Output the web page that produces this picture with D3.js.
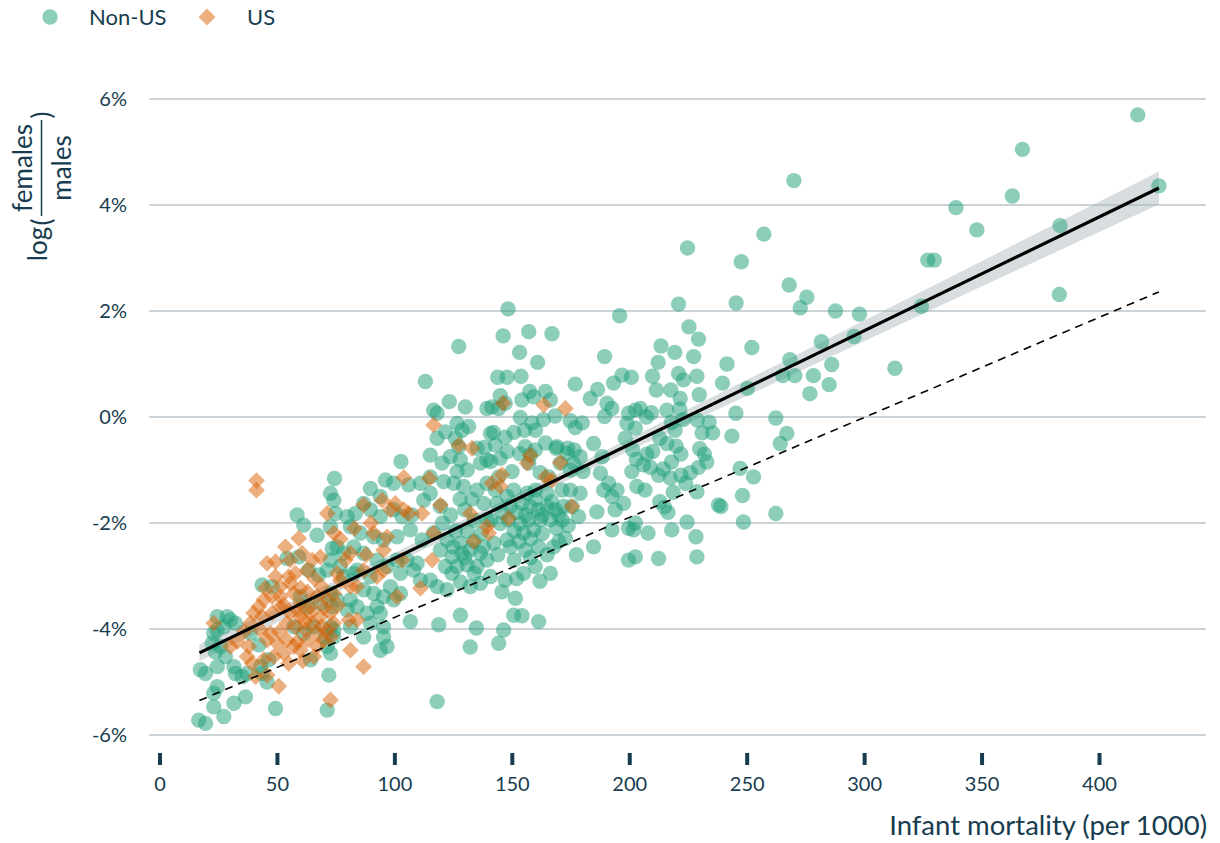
<!DOCTYPE html>
<html>
<head>
<meta charset="utf-8">
<script src="https://cdn.jsdelivr.net/npm/d3@7"></script>
<style>
  body { margin: 0; background: #ffffff; }
  svg { display: block; }
  text { font-family: Lato, "Open Sans", sans-serif; fill: #173c4f; }
</style>
</head>
<body>
<svg id="chart" width="1220" height="843"></svg>
<script>
// Infant mortality (per 1000) vs. log(females / males) in percent
const nonUS = [
  [24.6,-3.77],[28.8,-3.77],[32.3,-3.89],[27.4,-3.96],[24.6,-4.02],[30.2,-3.83],
  [23.1,-4.08],[22.4,-4.27],[26,-4.33],[28.1,-4.52],[23.8,-4.43],
  [17.4,-4.77],[19.6,-4.84],[24.6,-4.71],[32.3,-4.84],[35.2,-4.9],[31.7,-4.71],[37.3,-4.84],
  [24.6,-5.09],[23.1,-5.21],[36.6,-5.28],[31.7,-5.4],
  [23.1,-5.47],[27.4,-5.65],[16.7,-5.72],[19.6,-5.78],[38.7,-4.08],
  [43.7,-3.17],[48,-3.2],[58.6,-1.85],[61.4,-2.04],[67.1,-2.23],[73.5,-2.48],[54.3,-2.67],[59.3,-2.64],
  [63.5,-2.89],[67.8,-2.98],[71.4,-2.89],[60,-3.39],[62.9,-3.58],[68.5,-3.52],[73.5,-3.58],[57.2,-3.96],
  [61.4,-4.08],[65.7,-3.96],[70.6,-4.15],[74.2,-4.02],[43.7,-4.84],[45.8,-5.0],[72.1,-4.87],[71.4,-5.53],
  [64.3,-4.58],[46.5,-4.58],[43,-4.71],[71.4,-4.33],[42.3,-4.3],[49.4,-5.5],[74.5,-1.16],[72.8,-1.44],
  [74.2,-1.57],[74.9,-1.82],[72.8,-2.07],
  [89.8,-1.35],[94,-1.5],[86.9,-1.63],[83.4,-1.82],[79.9,-1.88],[89.8,-1.75],[94,-1.88],[99.7,-1.75],[103.3,-1.88],
  [96.2,-1.19],[99.7,-1.25],[102.8,-0.84],
  [81.3,-2.07],[85.5,-2.19],[91.2,-2.26],[95.4,-2.32],[101.1,-2.26],
  [75.6,-2.45],[78.4,-2.57],[72.8,-2.7],[77,-2.82],[82.7,-2.45],[86.9,-2.57],[92.6,-2.7],[96.9,-2.82],
  [101.1,-2.7],[105.4,-2.7],[102.6,-2.95],
  [78.4,-3.01],[82.7,-2.95],[86.9,-3.26],[91.2,-3.33],[95.4,-3.39],[98.3,-3.2],[102.6,-3.33],[99.7,-3.45],
  [72.8,-3.33],[75.6,-3.45],[79.9,-3.64],[84.1,-3.58],[88.4,-3.7],[94,-3.7],[95.4,-3.96],[95.4,-4.15],[96.9,-4.33],
  [72.8,-3.96],[74.2,-4.15],[72.8,-4.46],
  [84.1,-2.89],[89.8,-3.01],[81.3,-3.45],[92.6,-3.58],[89.8,-3.89],[94,-4.4],[86.9,-4.15],[81.3,-3.96],
  [113.2,0.67],[123.4,0.29],[130.2,0.19],[116.7,0.13],[118.2,0.07],[139.4,0.16],
  [126.7,-0.12],[131.6,-0.18],[121.7,-0.28],[126,-0.4],[118.2,-0.4],
  [135.2,-0.59],[127.4,-0.56],[123.8,-0.75],[115.3,-0.72],[128.1,-0.81],
  [120.3,-0.87],[126.7,-1.03],[131,-1.0],[139.4,-0.81],
  [106.1,-1.28],[111.1,-1.25],[115.3,-1.13],[121,-1.22],[129.5,-1.31],[135.2,-1.38],
  [112.5,-1.57],[115.3,-1.44],[119.6,-1.69],[107.5,-1.85],
  [106.8,-2.13],[111.8,-2.32],[116.7,-2.19],[122.4,-2.32],[128.1,-2.38],[133.8,-2.35],[138,-2.45],
  [119.6,-2.51],[124.6,-2.64],[128.8,-2.57],[132.3,-2.51],[136.6,-2.57],[139.4,-2.7],[121.7,-2.82],
  [126.7,-2.82],[131,-2.79],[135.2,-2.82],
  [109.7,-2.76],[108.2,-2.89],[111.1,-3.08],[115.3,-3.08],[118.2,-3.2],[122.4,-3.26],[128.1,-3.11],
  [132.3,-3.2],[136.6,-3.14],
  [106.8,-3.86],[118.9,-3.92],[128.1,-3.74],[118.2,-5.37],
  [127.4,1.33],[138,-1.63],[139.4,-1.94],
  [136.6,-0.87],[139.4,-1.25],[138.4,-0.57],[128.8,-0.25],[125.3,-1.25],[132.3,-4.34],[134.9,-3.98],
  [125,-2.45],[130,-2.65],[134,-2.95],[124.5,-2.95],[137,-2.2],[131,-2.15],[126,-2.15],[120.5,-2.0],
  [134,-1.95],[130,-1.75],[124,-1.85],[128,-1.55],[133,-1.55],
  [148.4,2.04],[146.3,1.53],[157.2,1.61],[167.1,1.57],[153.3,1.22],[161,1.03],
  [144,0.75],[148,0.75],[153.9,0.77],[177,0.62],
  [145.1,0.4],[147.2,0.26],[144.4,0.16],
  [157.6,0.48],[164.3,0.48],[166.4,0.32],[159.3,0.38],[154.3,0.32],
  [153.6,-0.01],[158.6,-0.11],[163.4,-0.05],[168.4,0.02],[174.9,-0.07],[180,-0.11],[177,-0.2],
  [142.2,-0.29],[147.2,-0.38],[150.9,-0.29],[155.4,-0.25],[160.1,-0.25],[164.3,-0.49],[168.8,-0.59],
  [173.8,-0.59],[176.6,-0.62],
  [143,-0.53],[141,-0.84],[145.1,-0.78],[148,-0.65],
  [153.3,-0.69],[155.7,-0.56],[160,-0.62],[169.2,-0.56],[173.5,-0.69],[179.1,-0.75],[176.3,-0.87],
  [180.3,-1.03],[174.9,-1.0],[170.6,-0.87],
  [144.4,-1.13],[150.1,-1.03],[157.9,-0.72],[157.2,-0.87],[162.1,-1.05],[165.7,-1.13],
  [143,-1.38],[148,-1.5],[150.8,-1.38],[156.5,-1.44],[160,-1.38],[165,-1.44],[171.4,-1.38],[174.9,-1.38],[179.1,-1.44],
  [143.7,-1.63],[149.4,-1.69],[154.3,-1.63],[157.9,-1.69],[161.4,-1.75],[165,-1.69],[168.5,-1.75],[172.1,-1.69],
  [175.6,-1.69],[178.4,-1.88],
  [145.1,-2.01],[148.6,-1.94],[153.6,-2.01],[157.2,-1.94],[162.1,-1.94],[166.4,-1.94],[171.4,-1.94],
  [159.3,-2.13],[155,-2.19],
  [142.3,-2.38],[148,-2.32],[149.4,-2.45],[155.7,-2.51],[161.4,-2.45],[167.8,-2.45],[172.8,-2.29],
  [140.9,-3.01],[147.2,-3.08],[155,-2.95],[160,-2.82],[166.4,-2.95],
  [145.8,-3.3],[151.5,-3.42],[150.8,-3.74],[154.3,-3.75],[161.4,-3.86],[146.5,-4.02],[144.4,-4.27],
  [141.5,0.19],[140.9,-0.31],[177.5,-2.6],
  [152,-1.8],[156,-1.85],[160,-1.55],[163,-1.85],[167,-1.6],[170,-1.85],[158,-2.3],[163,-2.2],[169,-2.1],
  [151,-2.15],[146,-1.8],[153,-2.35],[165,-2.6],[170,-2.35],[174,-2.05],[141,-1.95],[144,-2.6],[151,-2.7],
  [158,-2.65],[162,-3.1],[152,-3.05],
  [195.9,1.91],[189.5,1.14],[196.9,0.79],[200.9,0.75],[193.3,0.64],[183.4,0.35],[186.5,0.52],[190.5,0.26],
  [192.6,0.16],[189.5,0.01],[199.7,0.07],[202.6,0.13],[204.7,0.16],
  [199,-0.12],[202.6,-0.21],[198.3,-0.4],[184.8,-0.5],[188.4,-0.75],[187.7,-1.06],[191.2,-1.25],[194.8,-1.38],
  [197.6,-1.63],[192.6,-1.5],[189.1,-1.38],[201.1,-1.03],[203.2,-1.31],[186.2,-1.79],[194,-1.75],[192.6,-2.13],
  [199.7,-2.1],[202.6,-2.0],[184.8,-2.45],[199.7,-2.7],[202.6,-2.64],
  [257.3,3.45],[224.8,3.19],[247.7,2.93],[221,2.13],[245.5,2.15],[225.4,1.7],[229.5,1.47],[252.2,1.31],
  [213.5,1.34],[219.4,1.22],[227.4,1.14],[212.3,1.03],[241.6,1.0],[209.9,0.77],[221,0.82],[223.1,0.7],
  [228.8,0.77],[239.7,0.64],[211.5,0.51],[217.7,0.51],[221.7,0.35],[229.8,0.42],[250.3,0.54],
  [207.3,0.0],[209.4,0.08],
  [216,0.13],[218,-0.1],[221.5,0.15],[223,-0.05],[219.5,-0.25],
  [229,-0.06],[234,-0.1],[231,-0.3],[235.5,-0.3],
  [245.4,0.07],[243.7,-0.36],[262.4,-0.02],[267.1,-0.31],[264.3,-0.5],
  [201.5,-0.62],[203,-0.8],[206,-0.9],[209,-0.95],[210,-0.65],[207.5,-0.7],
  [213,-0.4],[216,-0.5],[220,-0.55],[222,-0.7],[218,-0.85],[214.5,-0.98],[212.5,-1.1],[217.5,-1.15],
  [222,-1.1],[226,-1.05],[229.5,-0.95],[232,-0.7],[230,-0.6],[233,-0.85],[224,-1.25],
  [206.7,-1.38],[213,-1.6],[215,-1.7],[216.5,-1.8],[218.7,-1.42],[228.8,-1.41],[247.2,-0.97],[252.9,-1.13],
  [248.2,-1.48],[238,-1.66],[239,-1.69],[248.6,-1.98],[262.4,-1.82],[208,-2.19],[218.1,-2.13],[224.6,-1.98],
  [228.4,-2.26],[201.8,-2.13],[212.5,-2.67],[228.8,-2.64],
  [416.5,5.7],[367.4,5.05],[270.1,4.46],[363.1,4.17],[425.5,4.36],[339.1,3.95],[348,3.53],[383.4,3.61],
  [327.1,2.96],[329.9,2.96],[268.1,2.49],[275.6,2.26],[272.8,2.06],[287.8,2.0],[298,1.94],[324.4,2.09],
  [383.1,2.31],[281.8,1.42],[295.7,1.52],[268.4,1.08],[265.4,0.78],[270.5,0.78],[278.4,0.78],[286.2,0.99],
  [285.1,0.61],[276.9,0.44],[313.1,0.92]
];

const us = [
  [23.1,-3.89],[30.2,-4.33],[33.1,-4.24],[38,-4.33],[37.3,-4.52],[39.4,-4.65],[38.7,-3.89],
  [41.3,-1.2],[41.3,-1.38],[71.4,-1.82],[74.2,-2.19],[59.3,-2.29],[53.6,-2.45],[45.8,-2.76],[49.4,-2.73],
  [55.7,-2.7],[60.7,-2.57],[65,-2.7],[68.5,-2.64],[49.4,-3.01],[55,-3.01],[57.9,-2.95],[62.9,-2.89],
  [51.5,-3.2],[55.7,-3.14],[60,-3.23],[45.1,-3.23],[48,-3.39],[51.5,-3.39],[42.3,-3.58],[44.4,-3.45],
  [40.1,-3.7],[43.7,-3.77],[48,-3.7],[51.5,-3.58],[57.2,-3.33],[60,-3.52],[64.3,-3.58],[67.1,-3.39],
  [71.4,-3.45],[74.2,-3.33],[55.7,-3.7],[60,-3.77],[64.3,-3.7],[68.5,-3.77],[72.8,-3.7],[54.3,-3.89],
  [57.9,-3.96],[62.1,-4.02],[65,-3.89],[67.1,-4.08],[71.4,-4.02],[74.2,-3.89],[43,-4.02],[47.2,-4.08],
  [45.8,-4.21],[50.1,-4.27],[54.3,-4.21],[58.6,-4.24],[62.9,-4.21],[44.4,-4.58],[48.7,-4.52],[52.9,-4.46],
  [57.2,-4.33],[60,-4.4],[40.9,-4.9],[45.8,-4.87],[50.8,-5.08],[72.8,-5.34],[67.1,-4.33],[70,-4.21],[65.7,-4.52],
  [63,-3.3],[66,-3.05],[69,-3.2],[53,-3.55],[62,-3.85],[69,-3.95],[51,-4.05],[59,-3.65],[61,-4.6],
  [55,-4.65],[70,-3.6],[73,-4.15],[36,-4.05],[76,-3.55],[84,-3.2],[88,-2.6],[90,-2.0],[83,-2.1],[77,-2.3],
  [104,-1.14],[94.8,-1.57],[100.4,-1.63],[86.9,-1.66],[91.2,-2.19],[96.9,-2.26],[79.1,-2.7],[103.3,-2.7],
  [95.4,-2.89],[75.6,-2.95],[81.3,-3.2],[101.1,-3.39],[80.6,-3.83],[81.3,-4.4],[86.9,-4.71],[98.3,-1.75],
  [95.4,-2.51],[81.3,-2.57],[86.9,-2.89],[92.6,-3.01],[84.1,-3.83],[77,-3.08],
  [116.7,-0.15],[114.9,-1.16],[127.4,-0.53],[133.1,-0.59],[106.1,-1.82],[111.8,-1.82],[119.6,-1.66],
  [116.7,-2.19],[116.1,-2.7],[133.8,-2.35],[132.3,-1.82],[111.1,-3.23],[139.4,-2.07],[104,-1.75],
  [140.2,-2.19],[141.5,-1.25],[145.8,-1.09],[145.1,-1.31],[148.6,-1.91],[146.3,0.26],[163.6,0.23],
  [172.8,0.16],[157.9,-0.72],[156.5,-0.87],[170.6,-0.86],[164.3,-1.13],[167.1,-1.19],[175.6,-1.69]
];

// Fitted regression line and its confidence band
const fitM = [17, 425.5];
const fitP = [-4.45, 4.32];
const bandM = [17, 60, 100, 140, 180, 220, 264, 300, 350, 400, 425.5];
const bandLow = [-4.61, -3.66, -2.77, -1.91, -1.06, -0.22, 0.69, 1.43, 2.46, 3.49, 4.01];
const bandHigh = [-4.29, -3.40, -2.56, -1.71, -0.85, 0.04, 1.01, 1.82, 2.94, 4.06, 4.63];

// Dashed reference line
const refM = [17, 425.5];
const refP = [-5.35, 2.36];

const xTicks = [0, 50, 100, 150, 200, 250, 300, 350, 400];
const yTicks = [-6, -4, -2, 0, 2, 4, 6];

const legendLabels = ["Non-US", "US"];
const xTitle = "Infant mortality (per 1000)";

const GREEN = "#1b9e77";
const ORANGE = "#d95f02";
const INK = "#173c4f";

const svg = d3.select("#chart");

const x = d3.scaleLinear().domain([0, 400]).range([159.5, 1099]);
const y = d3.scaleLinear().domain([-6, 6]).range([735, 99]);
const panelLeft = x(-4.5), panelRight = x(445.5);

// horizontal grid
svg.append("g")
  .selectAll("line")
  .data(yTicks)
  .join("line")
  .attr("x1", panelLeft).attr("x2", panelRight)
  .attr("y1", d => y(d)).attr("y2", d => y(d))
  .attr("stroke", "#cbd3d8").attr("stroke-width", 2);

// y tick labels
const yAxis = svg.append("g")
  .attr("transform", `translate(127,0)`)
  .call(d3.axisLeft(y).tickValues(yTicks).tickSize(0).tickPadding(0).tickFormat(d => `${d}%`));
yAxis.select(".domain").remove();
yAxis.selectAll("text").attr("font-size", 20).attr("fill", INK).attr("font-family", "Lato");

// x axis: short heavy ticks below the panel
const xAxis = svg.append("g")
  .attr("transform", `translate(0,753)`)
  .call(d3.axisBottom(x).tickValues(xTicks).tickSize(12).tickPadding(12).tickFormat(d3.format("d")));
xAxis.select(".domain").remove();
xAxis.selectAll(".tick line").attr("stroke", INK).attr("stroke-width", 4);
xAxis.selectAll("text").attr("font-size", 20).attr("fill", INK).attr("font-family", "Lato");

// confidence band
const bandData = bandM.map((m, i) => ({ m, lo: bandLow[i], hi: bandHigh[i] }));
svg.append("path")
  .datum(bandData)
  .attr("fill", "#a9b6b9").attr("fill-opacity", 0.45)
  .attr("d", d3.area().x(d => x(d.m)).y0(d => y(d.lo)).y1(d => y(d.hi)));

// points
svg.append("g")
  .selectAll("circle")
  .data(nonUS)
  .join("circle")
  .attr("cx", d => x(d[0])).attr("cy", d => y(d[1]))
  .attr("r", 7.7)
  .attr("fill", GREEN).attr("fill-opacity", 0.5);

const diamond = {
  draw(ctx, size) {
    const r = Math.sqrt(size / 2);
    ctx.moveTo(0, -r); ctx.lineTo(r, 0); ctx.lineTo(0, r); ctx.lineTo(-r, 0); ctx.closePath();
  }
};
const diamondPath = d3.symbol().type(diamond).size(2 * 8.4 * 8.4)();

svg.append("g")
  .selectAll("path")
  .data(us)
  .join("path")
  .attr("transform", d => `translate(${x(d[0])},${y(d[1])})`)
  .attr("d", diamondPath)
  .attr("fill", ORANGE).attr("fill-opacity", 0.5);

// lines
const line = d3.line().x(d => x(d[0])).y(d => y(d[1]));
svg.append("path")
  .datum(refM.map((m, i) => [m, refP[i]]))
  .attr("fill", "none").attr("stroke", "#000").attr("stroke-width", 1.6)
  .attr("stroke-dasharray", "8,6")
  .attr("d", line);
svg.append("path")
  .datum(fitM.map((m, i) => [m, fitP[i]]))
  .attr("fill", "none").attr("stroke", "#000").attr("stroke-width", 3.2)
  .attr("d", line);

// legend
const lg = svg.append("g").attr("font-size", 22);
lg.append("circle").attr("cx", 50).attr("cy", 17).attr("r", 7.7)
  .attr("fill", GREEN).attr("fill-opacity", 0.5);
lg.append("text").attr("x", 89).attr("y", 17).attr("dy", "0.35em").text(legendLabels[0]);
lg.append("path").attr("transform", "translate(207,17)").attr("d", diamondPath)
  .attr("fill", ORANGE).attr("fill-opacity", 0.5);
lg.append("text").attr("x", 247).attr("y", 17).attr("dy", "0.35em").text(legendLabels[1]);

// x axis title
svg.append("text")
  .attr("x", 1207).attr("y", 835)
  .attr("text-anchor", "end")
  .attr("font-size", 27.5)
  .text(xTitle);

// y axis title: log(females / males)
const yt = svg.append("g").attr("font-size", 26);
yt.append("text")
  .attr("transform", "translate(47,244) rotate(-90)")
  .attr("text-anchor", "middle").text("log");
yt.append("text")
  .attr("transform", "translate(51,222) rotate(-90)")
  .attr("text-anchor", "middle").text("(");
yt.append("text")
  .attr("transform", "translate(51,115) rotate(-90)")
  .attr("text-anchor", "middle").text(")");
yt.append("text")
  .attr("transform", "translate(32,168) rotate(-90)")
  .attr("text-anchor", "middle").text("females");
yt.append("text")
  .attr("transform", "translate(71,168) rotate(-90)")
  .attr("text-anchor", "middle").text("males");
yt.append("line")
  .attr("x1", 41.5).attr("x2", 41.5).attr("y1", 120).attr("y2", 216)
  .attr("stroke", INK).attr("stroke-width", 1.5);
</script>
</body>
</html>
